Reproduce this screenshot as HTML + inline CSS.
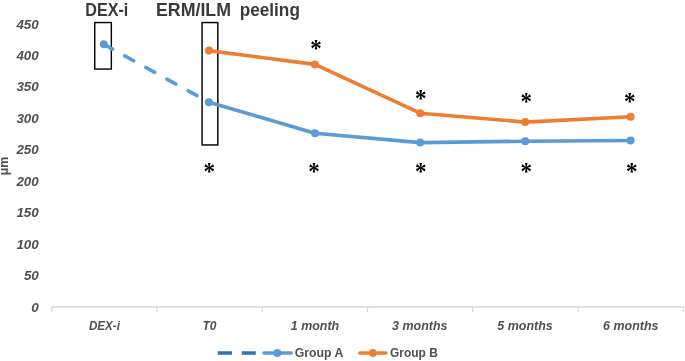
<!DOCTYPE html>
<html><head><meta charset="utf-8">
<style>
html,body{margin:0;padding:0;background:#fff;}
body{width:685px;height:361px;overflow:hidden;position:relative;font-family:"Liberation Sans",sans-serif;}
svg{position:absolute;left:0;top:0;display:block;will-change:transform;}
text{font-family:"Liberation Sans",sans-serif;}
text.yl{font-size:12px;font-weight:bold;font-style:italic;fill:#505050;text-anchor:end;}
text.xl{font-size:12px;font-weight:bold;font-style:italic;fill:#505050;text-anchor:middle;}
text.xr{font-size:12px;font-style:italic;fill:#404040;text-anchor:middle;}
text.lg{font-size:12px;font-weight:bold;fill:#505050;}
text.tt{font-size:17.5px;font-weight:bold;fill:#3a3a3a;}
text.as{font-family:"Liberation Serif",serif;font-size:23px;font-weight:bold;fill:#000;text-anchor:middle;}
</style></head><body>
<svg width="685" height="361" viewBox="0 0 685 361">
<rect width="685" height="361" fill="#fff"/>
<!-- axis -->
<g stroke="#d9d9d9" stroke-width="1.3" fill="none">
<path d="M51.5 307H684"/>
<path d="M51.7 307v5M157 307v5M262.2 307v5M367.5 307v5M472.7 307v5M578 307v5M683.3 307v5"/>
</g>
<!-- y labels -->
<g>
<text class="yl" x="38.8" y="29" textLength="22.4" lengthAdjust="spacingAndGlyphs">450</text>
<text class="yl" x="38.8" y="60" textLength="22.4" lengthAdjust="spacingAndGlyphs">400</text>
<text class="yl" x="38.8" y="91" textLength="22.4" lengthAdjust="spacingAndGlyphs">350</text>
<text class="yl" x="38.8" y="122.5" textLength="22.4" lengthAdjust="spacingAndGlyphs">300</text>
<text class="yl" x="38.8" y="154" textLength="22.4" lengthAdjust="spacingAndGlyphs">250</text>
<text class="yl" x="38.8" y="185.5" textLength="22.4" lengthAdjust="spacingAndGlyphs">200</text>
<text class="yl" x="38.8" y="217" textLength="22.4" lengthAdjust="spacingAndGlyphs">150</text>
<text class="yl" x="38.8" y="249" textLength="22.4" lengthAdjust="spacingAndGlyphs">100</text>
<text class="yl" x="38.8" y="280" textLength="14.9" lengthAdjust="spacingAndGlyphs">50</text>
<text class="yl" x="38.8" y="312" textLength="7.5" lengthAdjust="spacingAndGlyphs">0</text>
</g>
<text transform="translate(8.2,175.3) rotate(-90)" style="font-size:12px;font-weight:bold;fill:#505050;" textLength="18.6" lengthAdjust="spacingAndGlyphs">μm</text>
<!-- x labels -->
<text class="xl" x="104.4" y="330.45" textLength="31" lengthAdjust="spacingAndGlyphs">DEX-i</text>
<text class="xl" x="209.5" y="330.45">T0</text>
<text class="xl" x="315" y="330.45" textLength="48.4" lengthAdjust="spacingAndGlyphs">1 month</text>
<text class="xl" x="419.8" y="330.45" textLength="55.4" lengthAdjust="spacingAndGlyphs">3 months</text>
<text class="xl" x="525" y="330.45" textLength="55.4" lengthAdjust="spacingAndGlyphs">5 months</text>
<text class="xl" x="630.8" y="330.45" textLength="55.4" lengthAdjust="spacingAndGlyphs">6 months</text>
<!-- titles -->
<text class="tt" x="85.3" y="15.8" textLength="43" lengthAdjust="spacingAndGlyphs">DEX-i</text>
<text class="tt" y="15.8"><tspan x="156" textLength="75" lengthAdjust="spacingAndGlyphs">ERM/ILM</tspan> <tspan x="239.7" textLength="60.2" lengthAdjust="spacingAndGlyphs">peeling</tspan></text>
<!-- boxes -->
<rect x="94.75" y="22.55" width="16.6" height="46.5" fill="none" stroke="#000" stroke-width="1.4"/>
<rect x="202.1" y="22.55" width="15.7" height="122.4" fill="none" stroke="#0a0a0a" stroke-width="1.5"/>
<!-- series A -->
<path d="M103.8 44.3L208.9 102.2" stroke="#5b9bd5" stroke-width="3.6" stroke-dasharray="10.2 13.9" stroke-dashoffset="0.2" stroke-linecap="round" fill="none"/>
<path d="M208.9 102.2L315.0 133.2L420.2 142.6L525.2 141.2L630.6 140.5" stroke="#5b9bd5" stroke-width="3.6" fill="none" stroke-linejoin="round" stroke-linecap="round"/>
<g fill="#5b9bd5"><circle cx="103.8" cy="44.3" r="4"/><circle cx="208.9" cy="102.2" r="4"/><circle cx="315.0" cy="133.2" r="4"/><circle cx="420.2" cy="142.6" r="4"/><circle cx="525.2" cy="141.2" r="4"/><circle cx="630.6" cy="140.5" r="4"/></g>
<!-- series B -->
<path d="M208.9 50.6L314.9 64.4L420.2 113.2L525.2 122.1L630.6 116.7" stroke="#ed7d31" stroke-width="3.6" fill="none" stroke-linejoin="round" stroke-linecap="round"/>
<g fill="#ed7d31"><circle cx="208.9" cy="50.6" r="4"/><circle cx="314.9" cy="64.4" r="4"/><circle cx="420.2" cy="113.2" r="4"/><circle cx="525.2" cy="122.1" r="4"/><circle cx="630.6" cy="116.7" r="4"/></g>
<!-- asterisks -->
<text class="as" transform="translate(316,44.3) scale(1,1.13)" y="10.8">*</text>
<text class="as" transform="translate(420.7,94.9) scale(1,1.13)" y="10.8">*</text>
<text class="as" transform="translate(526.2,97.5) scale(1,1.13)" y="10.8">*</text>
<text class="as" transform="translate(629.7,97.5) scale(1,1.13)" y="10.8">*</text>
<text class="as" transform="translate(209.3,168.2) scale(1,1.13)" y="10.8">*</text>
<text class="as" transform="translate(314.1,168.2) scale(1,1.13)" y="10.8">*</text>
<text class="as" transform="translate(420.7,168.2) scale(1,1.13)" y="10.8">*</text>
<text class="as" transform="translate(526.2,168.2) scale(1,1.13)" y="10.8">*</text>
<text class="as" transform="translate(631.7,168.2) scale(1,1.13)" y="10.8">*</text>
<!-- legend -->
<path d="M217.8 353H232M241.8 353H255.8" stroke="#2e75b6" stroke-width="3.5" fill="none"/>
<path d="M264 353H291.2" stroke="#5b9bd5" stroke-width="3.6" stroke-linecap="round" fill="none"/>
<circle cx="277.3" cy="353" r="3.9" fill="#5b9bd5"/>
<text class="lg" x="294.7" y="356.6" textLength="48.6" lengthAdjust="spacingAndGlyphs">Group A</text>
<path d="M359.8 353H385.9" stroke="#ed7d31" stroke-width="3.6" stroke-linecap="round" fill="none"/>
<circle cx="372.8" cy="353" r="3.9" fill="#ed7d31"/>
<text class="lg" x="390" y="356.6" textLength="47.8" lengthAdjust="spacingAndGlyphs">Group B</text>
</svg>
</body></html>
